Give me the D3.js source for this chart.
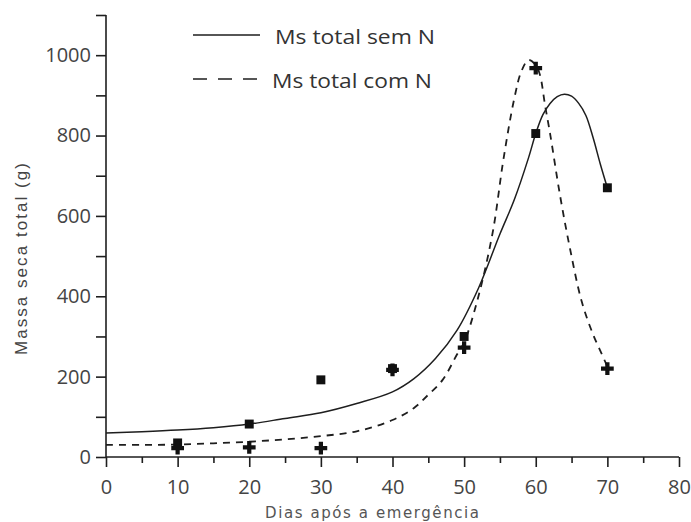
<!DOCTYPE html>
<html><head><meta charset="utf-8">
<script src="https://cdn.jsdelivr.net/npm/d3@7"></script>
<style>body{margin:0;background:#fff}svg{display:block}</style>
</head><body>
<svg id="c" width="691" height="522"></svg>
<script>
// Observed data (Dias após a emergência vs Massa seca total)
const days = [10, 20, 30, 40, 50, 60, 70];
const semN = [35, 82, 192, 220, 300, 805, 670];
const comN = [22, 24, 22, 217, 272, 968, 220];

// Fitted curves
const curveSemX = [0, 5, 10, 15, 20, 25, 30, 35, 40, 43, 46, 49, 52, 55, 57, 59, 60, 61, 62, 63, 64, 65, 66, 67, 68, 69, 70];
const curveSemY = [60, 63, 67, 73, 82, 96, 110, 133, 162, 195, 245, 315, 420, 555, 640, 745, 805, 852, 880, 897, 903, 898, 880, 850, 795, 730, 670];
const curveComX = [0, 5, 10, 15, 20, 25, 30, 35, 40, 43, 45, 47, 49, 50, 52, 54, 55.5, 57, 58, 59, 60, 60.6, 61.3, 62, 63.4, 64.8, 66.4, 68, 69, 70];
const curveComY = [30, 30, 31, 34, 38, 44, 52, 64, 92, 122, 155, 192, 255, 285, 400, 560, 742, 892, 960, 988, 975, 950, 875, 805, 650, 517, 388, 305, 265, 225];

const xTicks = [0, 10, 20, 30, 40, 50, 60, 70, 80];
const yTicks = [0, 200, 400, 600, 800, 1000];
const legendLabels = ["Ms total sem N", "Ms total com N"];
const xTitle = "Dias após a emergência";
const yTitle = "Massa seca total (g)";

const svg = d3.select("#c");
const x = d3.scaleLinear().domain([0, 80]).range([106, 679]);
const y = d3.scaleLinear().domain([0, 1100]).range([457, 15]);
const ink = "#1e1e1e";
const txt = "#444";
const font = "'Open Sans', sans-serif";

// Axes
const xAxis = d3.axisBottom(x).tickValues(d3.range(0, 81, 5)).tickSize(8)
  .tickFormat(d => xTicks.includes(d) ? d : "");
const gx = svg.append("g").attr("transform", `translate(0,${y(0)})`).call(xAxis);
gx.select(".domain").attr("d", `M${x(0)},0H${x(80)}`);
gx.selectAll(".tick line").attr("y2", d => d % 10 === 0 ? 10 : 6);
gx.selectAll(".tick text").attr("y", 23).attr("dy", "0.71em")
  .style("font-family", font).style("font-size", "20px").attr("fill", txt);

const yAxis = d3.axisLeft(y).tickValues(d3.range(0, 1101, 100)).tickSize(10)
  .tickFormat(d => yTicks.includes(d) ? d : "");
const gy = svg.append("g").attr("transform", `translate(${x(0)},0)`).call(yAxis);
gy.select(".domain").attr("d", `M0,${y(0)}V${y(1100)}`);
gy.selectAll(".tick text").attr("x", -15)
  .style("font-family", font).style("font-size", "20px").attr("fill", txt);
svg.selectAll(".domain, .tick line").attr("stroke", ink).attr("stroke-width", 1.6);

// Titles
svg.append("text").attr("x", 265).attr("y", 518)
  .style("font-family", "'DejaVu Sans', sans-serif").style("font-size", "15px")
  .attr("textLength", 214).attr("lengthAdjust", "spacing")
  .attr("fill", "#555").text(xTitle);
svg.append("text").attr("transform", "translate(27,355) rotate(-90)")
  .style("font-family", "'Liberation Sans', sans-serif").style("font-size", "17px")
  .attr("textLength", 192).attr("lengthAdjust", "spacing")
  .attr("fill", txt).text(yTitle);

// Curves
const line = d3.line().x(d => x(d[0])).y(d => y(d[1])).curve(d3.curveCatmullRom.alpha(0.5));
svg.append("path").datum(d3.zip(curveSemX, curveSemY)).attr("d", line)
  .attr("fill", "none").attr("stroke", ink).attr("stroke-width", 1.5);
svg.append("path").datum(d3.zip(curveComX, curveComY)).attr("d", line)
  .attr("fill", "none").attr("stroke", ink).attr("stroke-width", 1.8).attr("stroke-dasharray", "7,6");

// Points
svg.append("g").selectAll("path").data(d3.zip(days, semN)).join("path")
  .attr("transform", d => `translate(${x(d[0])},${y(d[1])})`)
  .attr("d", d3.symbol(d3.symbolSquare, 80)).attr("fill", "#111");
svg.append("g").selectAll("path").data(d3.zip(days, comN)).join("path")
  .attr("transform", d => `translate(${x(d[0])},${y(d[1])})`)
  .attr("d", d3.symbol(d3.symbolCross, 90)).attr("fill", "#111");

// Legend
const lg = svg.append("g");
[0, 1].forEach(i => {
  const ly = i === 0 ? 35 : 79;
  lg.append("line").attr("x1", 193).attr("x2", 260).attr("y1", ly).attr("y2", ly)
    .attr("stroke", ink).attr("stroke-width", 1.5)
    .attr("stroke-dasharray", i === 0 ? null : "14,11");
  lg.append("text").attr("x", i === 0 ? 275 : 272).attr("y", ly + 9)
    .style("font-family", font).style("font-size", "20px").attr("fill", "#333")
    .attr("textLength", 160).attr("lengthAdjust", "spacingAndGlyphs")
    .text(legendLabels[i]);
});
</script>
</body></html>
